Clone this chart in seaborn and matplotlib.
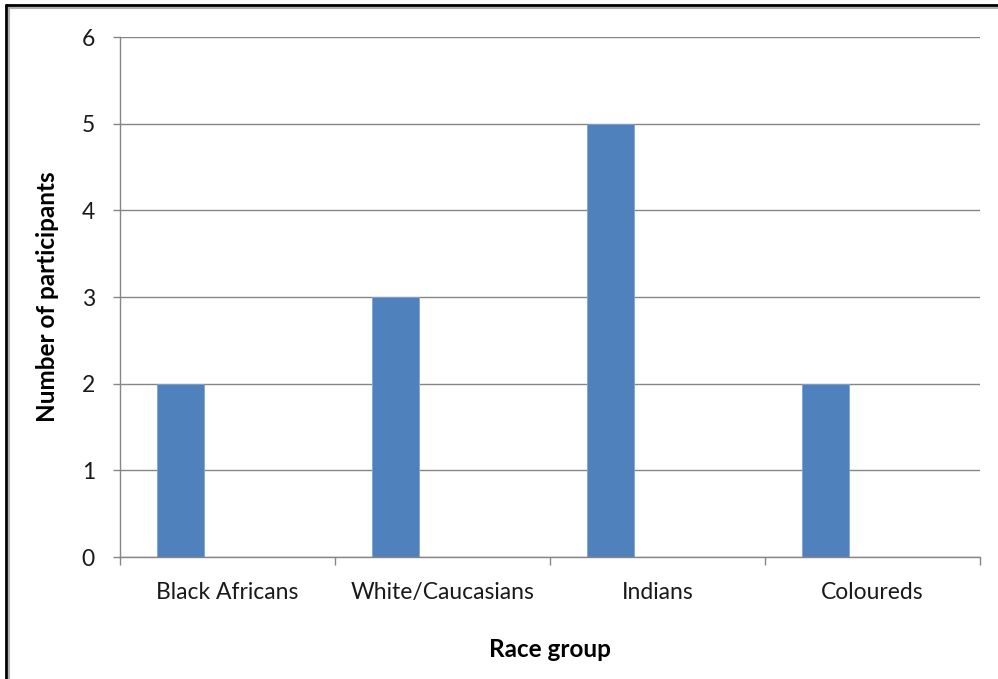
import matplotlib
matplotlib.use("Agg")
import matplotlib.pyplot as plt
import seaborn as sns
import pandas as pd
from matplotlib.lines import Line2D

# Survey counts by race group
categories = ["Black Africans", "White/Caucasians", "Indians", "Coloureds"]
participants = [2, 3, 5, 2]
y_ticks = [0, 1, 2, 3, 4, 5, 6]

sns.set_theme(style="white")
plt.rcParams["font.family"] = ["Lato", "DejaVu Sans"]

df = pd.DataFrame({"Race group": categories,
                   "Number of participants": participants})

W, H = 998, 679
fig = plt.figure(figsize=(W / 100, H / 100), dpi=100)
fig.patch.set_facecolor("white")
ax = fig.add_axes([120 / W, 1 - 557 / H, 860 / W, 520 / H])

bar_w = 47 / 215
sns.barplot(data=df, x="Race group", y="Number of participants",
            color="#4F81BD", saturation=1, width=bar_w, ax=ax,
            edgecolor="#7FA3D0", linewidth=0.6)

# bars sit in the left part of each category slot
offset = 47 / 215
for p in ax.patches:
    p.set_x(p.get_x() - offset)

grid_c = "#868686"
ax.set_xlim(-0.5, len(categories) - 0.5)
ax.set_ylim(0, 6)
ax.set_yticks(y_ticks)
ax.set_axisbelow(True)
ax.yaxis.grid(True, color=grid_c, linewidth=1)
ax.xaxis.grid(False)

for side in ("top", "right"):
    ax.spines[side].set_visible(False)
for side in ("left", "bottom"):
    ax.spines[side].set_color(grid_c)
    ax.spines[side].set_linewidth(1)

ax.set_xticks(range(len(categories)))
ax.set_xticklabels(categories)
ax.set_xticks([i - 0.5 for i in range(len(categories) + 1)], minor=True)
ax.tick_params(axis="x", which="major", length=0, pad=18, labelsize=16.5,
               labelcolor="#1a1a1a")
ax.tick_params(axis="x", which="minor", bottom=True, length=6, width=1,
               color=grid_c, direction="out")
ax.tick_params(axis="y", which="major", left=True, length=5, width=1,
               color=grid_c, direction="out", pad=13, labelsize=16.5,
               labelcolor="#1a1a1a")

ax.set_xlabel("Race group", fontsize=17.5, fontweight="bold", labelpad=25,
              color="black")
ax.set_ylabel("Number of participants", fontsize=17.5, fontweight="bold",
              labelpad=16.5, color="black")

# outer frame with a soft shadow on the left and top edges
fig.add_artist(Line2D([8.5 / W, 8.5 / W], [0, 1 - 5 / H],
                      transform=fig.transFigure, color="#b0b0b0", lw=1.5))
fig.add_artist(Line2D([8.5 / W, 1], [1 - 7.5 / H, 1 - 7.5 / H],
                      transform=fig.transFigure, color="#b0b0b0", lw=1.5))
fig.add_artist(Line2D([6 / W, 6 / W], [0, 1 - 4.5 / H],
                      transform=fig.transFigure, color="black", lw=2))
fig.add_artist(Line2D([6 / W, 1], [1 - 5 / H, 1 - 5 / H],
                      transform=fig.transFigure, color="black", lw=2))

fig.savefig("out.png", dpi=100, facecolor="white")
